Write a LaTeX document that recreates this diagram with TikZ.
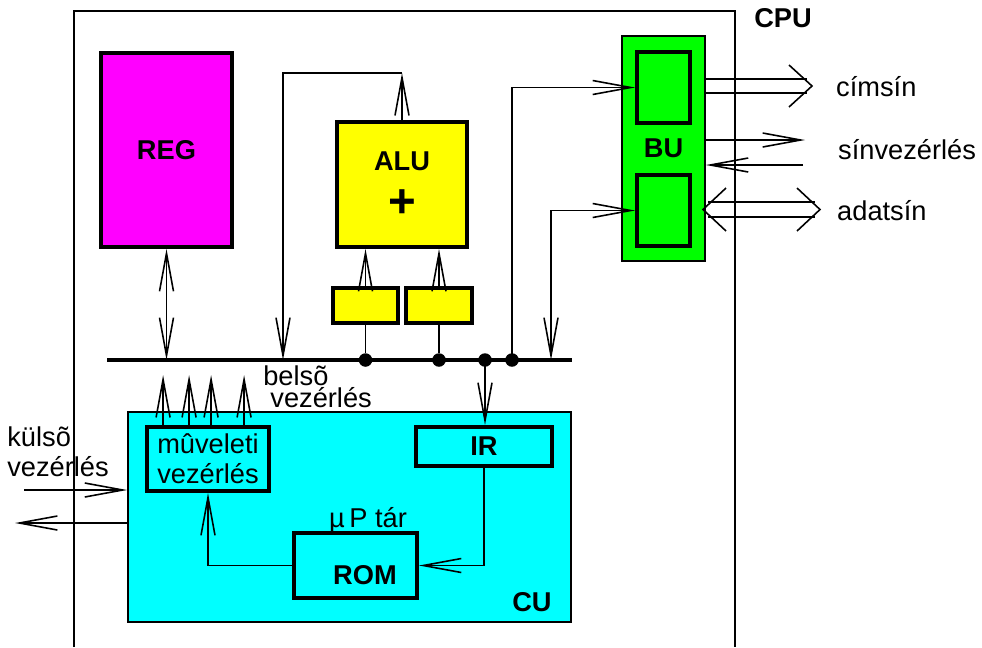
\documentclass[tikz,border=0pt]{standalone}
\usepackage{fontspec}
\setmainfont{Liberation Sans}
\usetikzlibrary{arrows.meta,positioning}
\definecolor{regmag}{RGB}{255,0,255}
\definecolor{aluyel}{RGB}{255,255,0}
\definecolor{bugreen}{RGB}{0,255,0}
\definecolor{cucyan}{RGB}{0,255,255}

\begin{document}
\begin{tikzpicture}[
  x=0.02cm, y=-0.02cm,
  font=\fontsize{15.5}{17}\selectfont,
  box/.style={draw, line width=2.2pt, inner sep=0pt},
  lbl/.style={font=\fontsize{15.5}{17}\selectfont\bfseries},
  dot/.style={circle, fill, inner sep=0pt, minimum size=0.27cm},
  bus/.style={line width=2pt},
  arr/.style={line width=0.9pt, -{Straight Barb[length=0.76cm,width=0.28cm,line width=0.9pt]}},
  darr/.style={line width=0.9pt, {Straight Barb[length=0.76cm,width=0.28cm,line width=0.9pt]}-{Straight Barb[length=0.76cm,width=0.28cm,line width=0.9pt]}},
  wide/.style={line width=0.9pt}]
\useasboundingbox (0,0) rectangle (982,647);
% CPU frame
\draw[line width=1.1pt] (74,647) -- (74,11) -- (735,11) -- (735,647);
\node[lbl] (cpu) at (783,18) {CPU};

% register file and ALU
\node[box, fill=regmag, minimum width=2.62cm, minimum height=3.88cm, lbl] (reg) at (166.5,150) {REG};
\node[box, fill=aluyel, minimum width=2.6cm, minimum height=2.5cm, align=center, lbl]
      (alu) at (402,184.5) {ALU\\[10pt]{\fontsize{27}{27}\selectfont +}};
\node[box, fill=aluyel, minimum width=1.3cm, minimum height=0.7cm] (opa) at (365.5,305.5) {};
\node[box, fill=aluyel, minimum width=1.32cm, minimum height=0.7cm] (opb) at (439,305.5) {};

% bus unit
\node[draw, line width=1pt, fill=bugreen, minimum width=1.66cm, minimum height=4.5cm, lbl] (bu) at (663.5,148.5) {BU};
\node[box, minimum width=1.06cm, minimum height=1.42cm] (bua) at (663.5,87.5) {};
\node[box, minimum width=1.06cm, minimum height=1.42cm] (bub) at (663.5,210.5) {};

% internal bus
\coordinate (busl) at (107,360);
\coordinate (busr) at (572,360);
\coordinate (busd) at (283,360);
\coordinate (busc) at (551,360);
\draw[bus] (busl) -- (busr);
\node[dot] (d1) at (opa |- busl) {};
\node[dot] (d2) at (opb |- busl) {};
\node[dot] (d3) at (485,360) {};
\node[dot] (d4) at (512,360) {};

% control unit
\node[draw, line width=1pt, fill=cucyan, minimum width=8.86cm, minimum height=4.2cm] (cu) at (349.5,517) {};
\node[lbl, anchor=south east, inner sep=0pt] (cul) at (552,612) {CU};
\node[box, minimum width=2.44cm, minimum height=1.28cm, align=center] (muv) at (208,459) {mûveleti\\vezérlés};
\node[box, minimum width=2.72cm, minimum height=0.78cm, lbl] (ir) at (484,446.5) {IR};
\node[box, minimum width=2.46cm, minimum height=1.3cm] (rom) at (355.5,565.5) {};
\node[lbl] (romt) at (365,575) {ROM};
\node (utar) at (368,520) {µ\,P tár};
\node[align=left, anchor=north west, inner sep=0pt, font=\fontsize{15.5}{13}\selectfont]
      (belso) at (263,365) {belsõ\\\hspace*{4pt}vezérlés};

% connectors
\draw[darr] (reg.south) -- (reg.south |- busl);
\draw[arr] (alu.north) -- ++(0,-47) coordinate (aluup);
\draw[arr] (aluup) -| (busd);
\draw[arr] (opa.north) -- (opa.north |- alu.south);
\draw[arr] (opb.north) -- (opb.north |- alu.south);
\draw[wide] (opa.south) -- (d1);
\draw[wide] (opb.south) -- (d2);
\draw[arr] (d4.center) |- (bua.west);
\draw[darr] (busc) |- (bub.west);
\draw[arr] (d3.center) -- (d3 |- ir.north);
\draw[arr] (ir.south) |- (rom.east);
\draw[arr] (rom.west) -| (muv.south);
\foreach \dx in {18,44,66,99}
  \draw[arr] ([xshift=\dx*0.02cm]muv.north west) -- ++(0,-50);

% external control
\node[align=left, anchor=west, inner sep=0pt] (kulso) at (7,452) {külsõ\\vezérlés};
\coordinate (kin) at (24,490);
\coordinate (kout) at (15,523);
\draw[arr] (kin) -- (kin -| cu.west);
\draw[arr] (kout -| cu.west) -- (kout);

% external buses
\coordinate (cs) at (812,86);
\coordinate (sv1) at (805,140);
\coordinate (sv2) at (803,165);
\coordinate (ad) at (820,209.5);
\coordinate (adl) at (703,209.5);
\draw[wide] ([yshift=0.14cm]bu.east |- cs) -- ([xshift=-0.1cm,yshift=0.14cm]cs);
\draw[wide] ([yshift=-0.14cm]bu.east |- cs) -- ([xshift=-0.1cm,yshift=-0.14cm]cs);
\draw[wide] ([shift={(-0.46cm,0.42cm)}]cs) -- (cs) -- ([shift={(-0.46cm,-0.42cm)}]cs);
\draw[arr] (bu.east |- sv1) -- (sv1);
\draw[arr] (sv2) -- (sv2 -| bu.east);
\draw[wide] ([xshift=0.1cm,yshift=0.15cm]adl) -- ([xshift=-0.1cm,yshift=0.15cm]ad);
\draw[wide] ([xshift=0.1cm,yshift=-0.15cm]adl) -- ([xshift=-0.1cm,yshift=-0.15cm]ad);
\draw[wide] ([shift={(-0.46cm,0.43cm)}]ad) -- (ad) -- ([shift={(-0.46cm,-0.43cm)}]ad);
\draw[wide] ([shift={(0.46cm,0.43cm)}]adl) -- (adl) -- ([shift={(0.46cm,-0.43cm)}]adl);
\node[anchor=west] (cimsin) at (830,87) {címsín};
\node[anchor=west] (sinvez) at (832,150) {sínvezérlés};
\node[anchor=west] (adatsin) at (831,211) {adatsín};
\end{tikzpicture}
\end{document}
